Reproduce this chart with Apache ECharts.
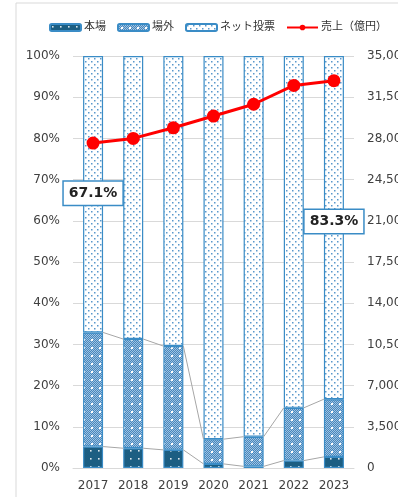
<!DOCTYPE html>
<html>
<head>
<meta charset="utf-8">
<script src="https://cdn.jsdelivr.net/npm/echarts@6/dist/echarts.min.js"></script>
<style>
  html, body { margin: 0; padding: 0; background: #fff; }
  #chart { width: 398px; height: 497px; }
</style>
</head>
<body>
<div id="chart"></div>
<script>
// Years on the category axis
const years = ['2017', '2018', '2019', '2020', '2021', '2022', '2023'];
// Share of sales by channel (%)
const honjo = [5.2, 4.8, 4.4, 1.0, 0.4, 1.8, 2.7];
const jogai = [27.7, 26.5, 25.2, 6.0, 7.2, 12.8, 14.0];
const net = [67.1, 68.7, 70.4, 93.0, 92.4, 85.4, 83.3];
// Total sales (100 million yen)
const sales = [27600, 28000, 28900, 29900, 30900, 32500, 32900];
// Left / right axis ticks
const pctTicks = [0, 10, 20, 30, 40, 50, 60, 70, 80, 90, 100];
const salesMax = 35000;
const salesStep = 3500;
// Net-share values called out with a boxed label
const calloutYears = ['2017', '2023'];

const FONT = 'DejaVu Sans, Noto Sans CJK JP, sans-serif';
const BORDER = '#3a8cc6';

function makePattern(size, draw) {
  const c = document.createElement('canvas');
  c.width = size; c.height = size;
  const ctx = c.getContext('2d');
  draw(ctx, size);
  return { image: c, repeat: 'repeat' };
}

// dark fill with sparse white dots
const patHonjo = makePattern(8, (ctx, s) => {
  ctx.fillStyle = '#1c5e82'; ctx.fillRect(0, 0, s, s);
  ctx.fillStyle = 'rgba(255,255,255,0.85)';
  ctx.fillRect(2, 2, 1.6, 1.6);
});
// blue crosshatch with white dots
const patJogai = makePattern(8, (ctx, s) => {
  ctx.fillStyle = '#4787bd'; ctx.fillRect(0, 0, s, s);
  ctx.fillStyle = '#9fc3e2';
  for (let y = 0; y < s; y++) for (let x = 0; x < s; x++) if ((x + y) % 2 === 0) ctx.fillRect(x, y, 1, 1);
  ctx.fillStyle = '#ffffff';
  ctx.fillRect(3, 3, 2, 2);
});
// white with blue dots
const patNet = makePattern(6, (ctx, s) => {
  ctx.fillStyle = '#ffffff'; ctx.fillRect(0, 0, s, s);
  ctx.fillStyle = '#5a98cb';
  ctx.fillRect(1, 1, 1.5, 1.5);
  ctx.fillRect(4, 4, 1.5, 1.5);
});

// cumulative tops for the series lines between bars
const cum1 = honjo.slice();
const cum2 = honjo.map((v, i) => +(v + jogai[i]).toFixed(1));
const linkData = [];
for (let i = 0; i < years.length - 1; i++) {
  linkData.push([i, cum1[i], cum1[i + 1]]);
  linkData.push([i, cum2[i], cum2[i + 1]]);
}

const BAR_W = 20;

const chart = echarts.init(document.getElementById('chart'), null, { renderer: 'canvas' });
chart.setOption({
  animation: false,
  textStyle: { fontFamily: FONT },
  graphic: [{
    type: 'rect', z: -1,
    shape: { x: 16, y: 3, width: 500, height: 600 },
    style: { fill: 'none', stroke: '#d9d9d9', lineWidth: 1 }
  }],
  legend: {
    top: 17, left: 44, width: 360,
    itemWidth: 31, itemHeight: 7, itemGap: 11,
    textStyle: { fontSize: 11, color: '#333', fontFamily: FONT, padding: [0, 0, 0, -2] },
    data: ['本場', '場外', 'ネット投票', '売上（億円）']
  },
  grid: { left: 73, right: 44, top: 56, bottom: 29, containLabel: false, outerBoundsMode: 'none' },
  xAxis: {
    type: 'category', data: years,
    axisTick: { show: false },
    axisLine: { lineStyle: { color: '#d9d9d9' } },
    axisLabel: { color: '#404040', fontSize: 12, margin: 12, interval: 0, fontFamily: FONT }
  },
  yAxis: [{
    type: 'value', min: pctTicks[0], max: pctTicks[pctTicks.length - 1], interval: 10,
    axisLabel: { formatter: '{value}%', color: '#404040', fontSize: 12, margin: 13, fontFamily: FONT },
    splitLine: { lineStyle: { color: '#d9d9d9' } },
    axisLine: { show: false }, axisTick: { show: false }
  }, {
    type: 'value', min: 0, max: salesMax, interval: salesStep,
    axisLabel: {
      formatter: v => v.toLocaleString('en-US'),
      color: '#404040', fontSize: 12, margin: 13, fontFamily: FONT
    },
    splitLine: { show: false }, axisLine: { show: false }, axisTick: { show: false }
  }],
  series: [{
    name: '本場', type: 'bar', stack: 'share', barWidth: BAR_W,
    data: honjo,
    itemStyle: { color: patHonjo, borderColor: BORDER, borderWidth: 1.2 }
  }, {
    name: '場外', type: 'bar', stack: 'share', barWidth: BAR_W,
    data: jogai,
    itemStyle: { color: patJogai, borderColor: BORDER, borderWidth: 1.2 }
  }, {
    name: 'ネット投票', type: 'bar', stack: 'share', barWidth: BAR_W,
    data: net.map((v, i) => {
      const item = { value: v };
      if (calloutYears.includes(years[i])) {
        item.label = {
          show: true, position: 'inside',
          offset: i === years.length - 1 ? [0, -6] : [0, -1],
          formatter: p => p.value.toFixed(1) + '%',
          fontSize: 14, fontWeight: 'bold', color: '#222', fontFamily: FONT,
          backgroundColor: '#fff', borderColor: BORDER, borderWidth: 1.5,
          padding: [5, 5, 4, 5]
        };
      }
      return item;
    }),
    itemStyle: { color: patNet, borderColor: BORDER, borderWidth: 1.2 },
    z: 2
  }, {
    name: 'links', type: 'custom', coordinateSystem: 'cartesian2d',
    yAxisIndex: 0, silent: true, z: 3,
    data: linkData,
    renderItem: (params, api) => {
      const i = api.value(0);
      const p1 = api.coord([i, api.value(1)]);
      const p2 = api.coord([i + 1, api.value(2)]);
      return {
        type: 'line',
        shape: { x1: p1[0] + BAR_W / 2, y1: p1[1], x2: p2[0] - BAR_W / 2, y2: p2[1] },
        style: { stroke: '#a6a6a6', lineWidth: 1 }
      };
    }
  }, {
    name: '売上（億円）', type: 'line', yAxisIndex: 1, data: sales,
    symbol: 'circle', symbolSize: 13,
    lineStyle: { color: '#ff0000', width: 3 },
    itemStyle: { color: '#ff0000' },
    z: 5
  }]
});
</script>
</body>
</html>
